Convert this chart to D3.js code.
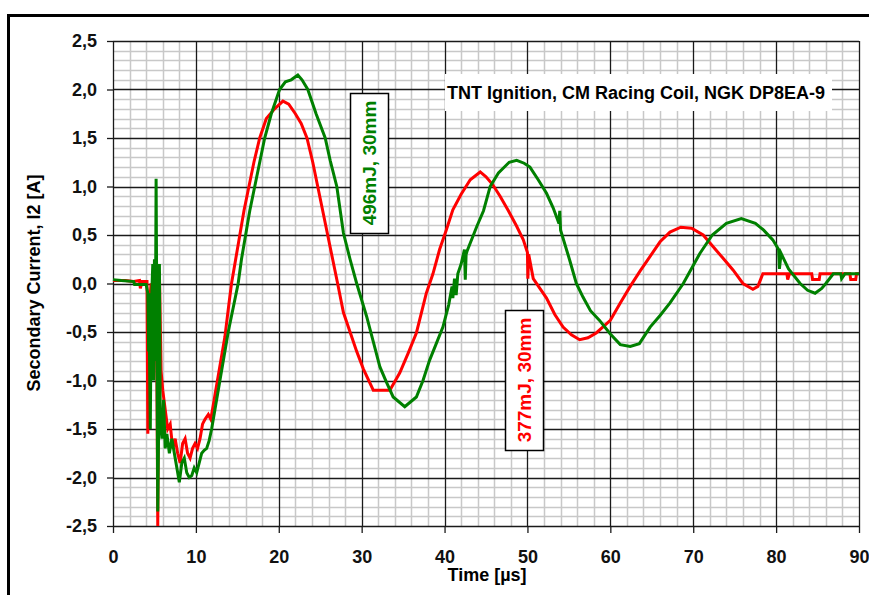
<!DOCTYPE html>
<html>
<head>
<meta charset="utf-8">
<script src="https://cdn.jsdelivr.net/npm/d3@7"></script>
<style>
  body { margin: 0; background: #fff; }
  svg { display: block; font-family: "Liberation Sans", Arial, sans-serif; }
  .tick text { font-weight: bold; font-size: 18px; fill: #111; }
</style>
</head>
<body>
<div id="chart"></div>
<script>
// red trace, 377mJ
var redTime = [0, 1.5, 2.5, 3.2, 3.3, 3.5, 4.1, 4.2, 4.3, 4.6, 4.9, 5.1, 5.3, 5.4, 5.5, 5.6, 5.8, 6.0, 6.3, 6.6, 6.9,
    7.2, 7.5, 7.8, 8.1, 8.4, 8.7, 9.0, 9.3, 9.6, 9.9, 10.2, 10.5, 10.8, 11.1, 11.5, 11.8, 12.1, 12.5, 13.0, 13.5,
    14.0, 14.3, 14.8, 15.3, 15.8, 16.4, 17.0, 17.7, 18.5, 19.5, 20.5, 21.2, 22.0, 22.7, 23.4, 24.1, 24.7, 25.3,
    25.9, 26.5, 27.1, 27.8, 28.6, 29.4, 30.2, 31.4, 33.4, 34.6, 35.6, 36.6, 37.8, 38.6, 39.4, 40.2, 41.0, 42.0,
    43.1, 44.3, 45.0, 45.8, 46.7, 47.7, 48.7, 49.5, 50.0, 50.05, 50.15, 50.7, 51.5, 52.3, 53.3, 54.3, 55.3, 56.3,
    57.3, 58.3, 60.0, 61.2, 62.4, 63.6, 64.8, 66.0, 67.2, 68.5, 69.8, 71.2, 72.2, 73.5, 74.8, 76.0, 77.2, 77.8,
    78.4, 81.3, 81.4, 81.6, 84.3, 84.4, 85.2, 85.3, 88.9, 89.0, 89.6, 89.7, 90];
var redCurrent = [0.03, 0.03, 0.02, 0.03, -0.05, 0.02, 0.02, -1.55, -0.3, 0.0, -0.2, 0.15, -1.0, -2.5, -1.2, 0.12, -0.9, -1.1, -1.3, -1.5, -1.45,
    -1.7, -1.6, -1.75, -1.85, -1.65, -1.6, -1.75, -1.8, -1.7, -1.65, -1.7, -1.6, -1.45, -1.4, -1.35, -1.4, -1.25, -1.05, -0.8, -0.55,
    -0.2, 0.0, 0.25, 0.5, 0.75, 1.0, 1.25, 1.5, 1.7, 1.8, 1.88, 1.85, 1.75, 1.65, 1.5, 1.25, 1.0, 0.75,
    0.5, 0.25, 0.0, -0.3, -0.5, -0.7, -0.88, -1.1, -1.1, -0.92, -0.72, -0.51, -0.1, 0.1, 0.35, 0.55, 0.76, 0.92,
    1.07, 1.15, 1.1, 1.02, 0.9, 0.75, 0.59, 0.45, 0.32, 0.05, 0.3, 0.05, -0.05, -0.15, -0.32, -0.45, -0.53, -0.58,
    -0.56, -0.51, -0.38, -0.2, -0.03, 0.13, 0.28, 0.43, 0.53, 0.58, 0.57, 0.5, 0.4, 0.27, 0.14, 0.0, -0.06, -0.03,
    0.1, 0.1, 0.04, 0.1, 0.1, 0.04, 0.04, 0.1, 0.1, 0.04, 0.04, 0.1, 0.1];

// green trace, 496mJ
var greenTime = [0, 1.0, 2.5, 2.6, 4.0, 4.2, 4.3, 4.35, 4.4, 4.5, 4.6, 4.8, 4.9, 5.0, 5.1, 5.2, 5.3, 5.4, 5.5, 5.6,
    5.7, 5.9, 6.1, 6.3, 6.5, 6.8, 7.1, 7.4, 7.7, 8.0, 8.3, 8.6, 8.9, 9.2, 9.5, 9.8, 10.1, 10.4, 10.7, 11.0, 11.3,
    11.6, 11.9, 12.3, 12.9, 13.4, 13.9, 14.5, 15.1, 15.5, 16.0, 16.5, 17.1, 17.7, 18.3, 19.1, 20.1, 20.8, 21.5,
    22.3, 22.8, 23.5, 24.5, 25.6, 26.2, 27.0, 27.8, 28.6, 29.4, 30.0, 30.6, 31.4, 32.2, 33.0, 33.8, 35.2, 36.6,
    37.4, 38.2, 39.0, 39.8, 40.5, 40.9, 41.0, 41.2, 41.4, 41.6, 42.0, 42.4, 42.5, 42.6, 42.7, 43.9, 44.7, 45.5,
    46.5, 47.8, 48.7, 49.6, 50.3, 51.3, 52.3, 53.1, 53.8, 53.9, 54.0, 55.1, 55.9, 56.7, 57.6, 58.7, 60.0, 61.2,
    62.4, 63.5, 64.8, 66.0, 67.2, 68.8, 70.8, 72.3, 74.0, 75.8, 77.5, 78.5, 79.6, 80.3, 80.4, 80.6, 81.5, 82.9,
    83.8, 84.7, 85.5, 86.0, 86.9, 87.8, 87.9, 88.3, 90];
var greenCurrent = [0.04, 0.03, 0.02, -0.01, -0.01, -0.1, -0.7, -0.1, -0.7, -1.5, -0.3, 0.2, -1.0, 0.25, -0.8, 1.08, -0.6, -2.35, -1.5, 0.2,
    -1.4, -1.6, -1.2, -1.7, -1.55, -1.75, -1.6, -1.75, -1.9, -2.05, -1.85, -1.8, -1.95, -2.0, -1.98, -1.9, -1.95, -1.85, -1.75, -1.72, -1.7,
    -1.62, -1.5, -1.3, -1.0, -0.75, -0.5, -0.25, 0.0, 0.25, 0.5, 0.75, 1.0, 1.25, 1.5, 1.75, 2.0, 2.08, 2.1,
    2.15, 2.1, 2.0, 1.75, 1.5, 1.27, 1.0, 0.52, 0.25, 0.0, -0.17, -0.34, -0.6, -0.86, -1.02, -1.17, -1.27, -1.17,
    -1.0, -0.79, -0.62, -0.45, -0.22, -0.03, -0.15, 0.05, -0.12, 0.1, 0.2, 0.35, 0.04, 0.3, 0.33, 0.59, 0.75, 1.0,
    1.14, 1.25, 1.27, 1.24, 1.2, 1.07, 0.93, 0.78, 0.62, 0.75, 0.55, 0.24, 0.0, -0.14, -0.28, -0.38, -0.52, -0.63,
    -0.65, -0.62, -0.45, -0.33, -0.2, 0.0, 0.31, 0.5, 0.62, 0.67, 0.62, 0.55, 0.45, 0.35, 0.15, 0.31, 0.15, 0.0,
    -0.07, -0.1, -0.05, 0.0, 0.1, 0.1, 0.05, 0.1, 0.1];

var xTicks = [0, 10, 20, 30, 40, 50, 60, 70, 80, 90];
var yTicks = [-2.5, -2.0, -1.5, -1.0, -0.5, 0.0, 0.5, 1.0, 1.5, 2.0, 2.5];

var titleText = "TNT Ignition, CM Racing Coil, NGK DP8EA-9";
var greenLabel = "496mJ, 30mm";
var redLabel = "377mJ, 30mm";

var svgW = 869;
var svgH = 595;
var margin = { top: 41, right: 10, bottom: 69, left: 113 };
var chartW = 746;
var chartH = 485;

var svg = d3.select("#chart")
    .append("svg")
    .attr("width", svgW)
    .attr("height", svgH);

svg.append("rect")
    .attr("width", svgW)
    .attr("height", svgH)
    .attr("fill", "#fff");

// outer frame, runs off the right and bottom edge
svg.append("rect")
    .attr("x", 8.5)
    .attr("y", 15.5)
    .attr("width", 900)
    .attr("height", 700)
    .attr("fill", "none")
    .attr("stroke", "#000")
    .attr("stroke-width", 3);

var chartG = svg.append("g")
    .attr("transform", `translate(${margin.left}, ${margin.top})`);

var xScale = d3.scaleLinear().domain([0, 90]).range([0, chartW]);
var yScale = d3.scaleLinear().domain([-2.5, 2.5]).range([chartH, 0]);

// minor grid
var minorX = d3.range(0, 91, 2).filter(function(d) { return d % 10 != 0; });
var minorY = d3.range(-25, 26, 1).filter(function(d) { return d % 5 != 0; }).map(function(d) { return d / 10; });

chartG.append("g").selectAll("line")
    .data(minorX)
    .enter()
    .append("line")
    .attr("x1", function(d) { return Math.round(xScale(d)) + 0.5 })
    .attr("x2", function(d) { return Math.round(xScale(d)) + 0.5 })
    .attr("y1", 0)
    .attr("y2", chartH)
    .attr("stroke", "#c8c8c8")
    .attr("stroke-width", 1.5);

chartG.append("g").selectAll("line")
    .data(minorY)
    .enter()
    .append("line")
    .attr("x1", 0)
    .attr("x2", chartW)
    .attr("y1", function(d) { return Math.round(yScale(d)) + 0.5 })
    .attr("y2", function(d) { return Math.round(yScale(d)) + 0.5 })
    .attr("stroke", "#c8c8c8")
    .attr("stroke-width", 1.5);

// major grid
chartG.append("g").selectAll("line")
    .data(xTicks)
    .enter()
    .append("line")
    .attr("x1", function(d) { return Math.round(xScale(d)) + 0.5 })
    .attr("x2", function(d) { return Math.round(xScale(d)) + 0.5 })
    .attr("y1", 0)
    .attr("y2", chartH)
    .attr("stroke", "#1a1a1a")
    .attr("stroke-width", 1.3);

chartG.append("g").selectAll("line")
    .data(yTicks)
    .enter()
    .append("line")
    .attr("x1", 0)
    .attr("x2", chartW)
    .attr("y1", function(d) { return Math.round(yScale(d)) + 0.5 })
    .attr("y2", function(d) { return Math.round(yScale(d)) + 0.5 })
    .attr("stroke", "#1a1a1a")
    .attr("stroke-width", 1.3);

// axes
var commaFmt = function(d) { return d3.format(".1f")(d).replace(".", ",").replace("−", "-"); };

var lAxis = d3.axisLeft(yScale)
    .tickValues(yTicks)
    .tickFormat(commaFmt)
    .tickSize(6)
    .tickPadding(10);

var bAxis = d3.axisBottom(xScale)
    .tickValues(xTicks)
    .tickFormat(d3.format("d"))
    .tickSize(7)
    .tickPadding(17);

var yAxis = chartG.append("g").call(lAxis);
var xAxis = chartG.append("g")
    .attr("transform", `translate(0, ${chartH})`)
    .call(bAxis);

yAxis.select(".domain").remove();
xAxis.select(".domain").remove();
chartG.selectAll(".tick line").attr("stroke", "#1a1a1a").attr("stroke-width", 1.3);

// traces
var clipId = "plotClip";
chartG.append("clipPath")
    .attr("id", clipId)
    .append("rect")
    .attr("x", -2)
    .attr("y", -2)
    .attr("width", chartW + 4)
    .attr("height", chartH + 4);

function traceLine(times, values) {
    var pts = times.map(function(t, i) { return [t, values[i]]; });
    return d3.line()
        .x(function(d) { return xScale(d[0]) })
        .y(function(d) { return yScale(d[1]) })(pts);
}

chartG.append("path")
    .attr("d", traceLine(redTime, redCurrent))
    .attr("fill", "none")
    .attr("stroke", "#ff0000")
    .attr("stroke-width", 3)
    .attr("stroke-linejoin", "miter")
    .attr("clip-path", `url(#${clipId})`);

chartG.append("path")
    .attr("d", traceLine(greenTime, greenCurrent))
    .attr("fill", "none")
    .attr("stroke", "#008000")
    .attr("stroke-width", 3)
    .attr("stroke-linejoin", "miter")
    .attr("clip-path", `url(#${clipId})`);

// axis titles
svg.append("text")
    .attr("x", 487)
    .attr("y", 581)
    .attr("text-anchor", "middle")
    .attr("font-weight", "bold")
    .attr("font-size", 18)
    .text("Time [µs]");

svg.append("text")
    .attr("transform", "translate(40, 283) rotate(-90)")
    .attr("text-anchor", "middle")
    .attr("font-weight", "bold")
    .attr("font-size", 18)
    .text("Secondary Current, I2 [A]");

// title box
svg.append("rect")
    .attr("x", 445)
    .attr("y", 74)
    .attr("width", 387)
    .attr("height", 37)
    .attr("fill", "#fff");

svg.append("text")
    .attr("x", 636)
    .attr("y", 99)
    .attr("text-anchor", "middle")
    .attr("font-weight", "bold")
    .attr("font-size", 18)
    .text(titleText);

// rotated series labels
function seriesLabel(x, y, w, h, txt, color) {
    svg.append("rect")
        .attr("x", x + 0.5)
        .attr("y", y + 0.5)
        .attr("width", w)
        .attr("height", h)
        .attr("fill", "#fff")
        .attr("stroke", "#000")
        .attr("stroke-width", 1.5);
    svg.append("text")
        .attr("transform", `translate(${x + w / 2 + 7}, ${y + h / 2}) rotate(-90)`)
        .attr("text-anchor", "middle")
        .attr("font-weight", "bold")
        .attr("font-size", 19)
        .attr("fill", color)
        .text(txt);
}

seriesLabel(350, 93, 38, 140, greenLabel, "#008000");
seriesLabel(505, 310, 38, 140, redLabel, "#ff0000");
</script>
</body>
</html>
